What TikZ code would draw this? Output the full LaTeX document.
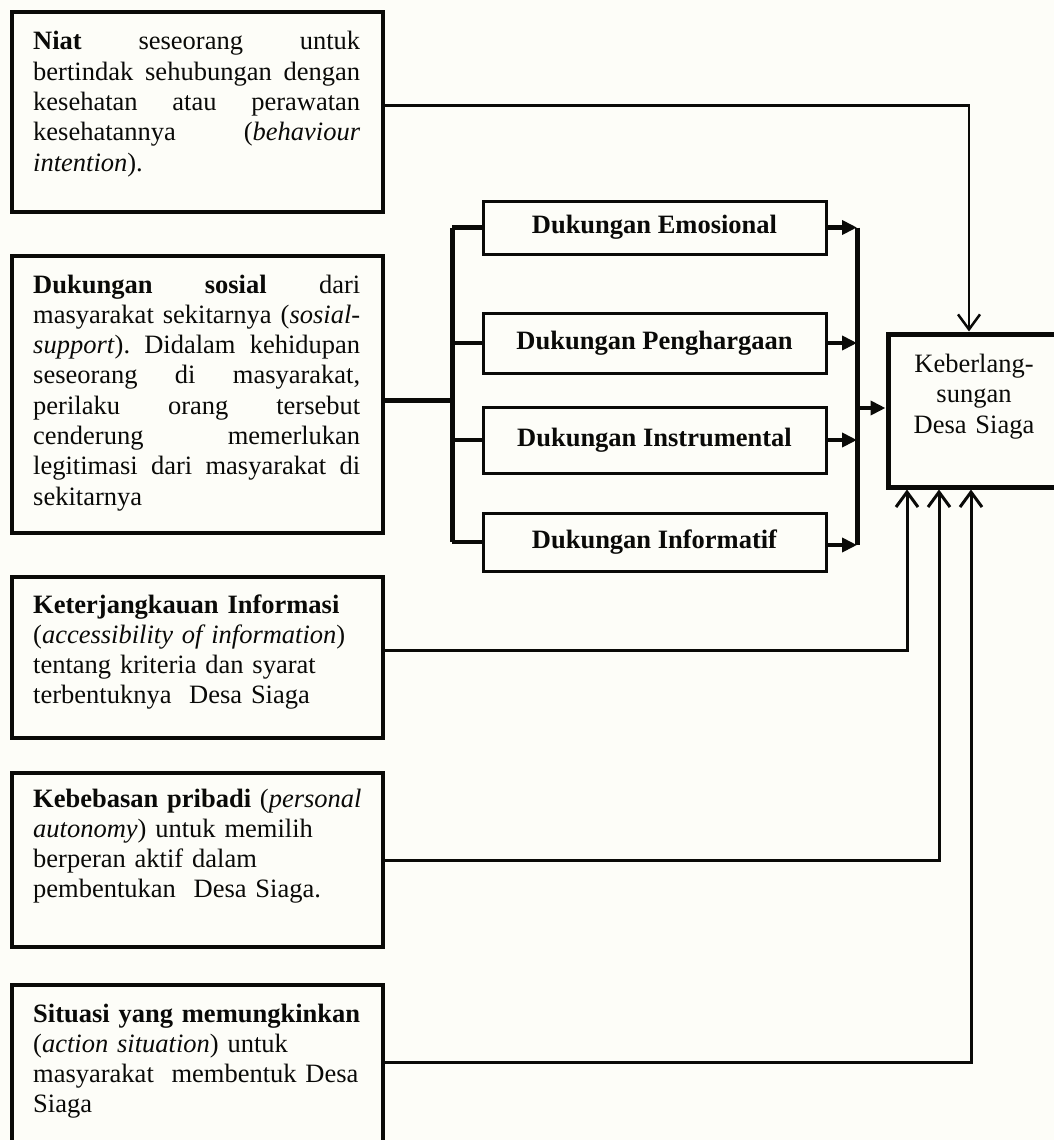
\documentclass[tikz,border=0pt]{standalone}
\usepackage{fontspec}
\setmainfont{Liberation Serif}
\usetikzlibrary{arrows.meta}
\hyphenpenalty=10000
\frenchspacing
\definecolor{bgcol}{RGB}{253,253,248}
\definecolor{ink}{RGB}{10,10,8}
\begin{document}
\begin{tikzpicture}[x=1pt,y=-1pt,
  lbox/.style={draw=ink, line width=3.5pt, minimum width=371pt, inner sep=0pt},
  ltext/.style={anchor=base west, inner sep=0pt, text width=327pt, text=ink,
    font=\fontsize{26.5}{30.3}\selectfont\frenchspacing},
  rtext/.style={ltext, text width=345pt, align=left},
  mbox/.style={draw=ink, line width=3pt, minimum width=343pt, inner sep=0pt, text=ink,
    font=\fontsize{26.5}{30}\selectfont\bfseries},
  tbox/.style={draw=ink, line width=5pt, minimum width=172pt, minimum height=153pt, inner sep=0pt},
  bus/.style={draw=ink, line width=5pt},
  stub/.style={draw=ink, line width=4.5pt},
  thinline/.style={draw=ink, line width=2.5pt},
  botline/.style={draw=ink, line width=3pt},
  barb/.style={-{Straight Barb[length=15pt,width=22pt]}},
  tri/.style={-{Triangle[length=15pt,width=14pt]}}
]
\fill[bgcol] (0,0) rectangle (1054,1140);
\useasboundingbox (0,0) rectangle (1054,1140);

% left boxes
\node[lbox, minimum height=200pt] (niat) at (197.5,112) {};
\node[lbox, minimum height=277pt] (sosial) at (197.5,394.5) {};
\node[lbox, minimum height=161pt] (info) at (197.5,657.5) {};
\node[lbox, minimum height=174pt] (bebas) at (197.5,860) {};
\node[lbox, minimum height=175pt] (situasi) at (197.5,1072.5) {};

\node[ltext, align=justify] (niattext) at (33,50)
 {\textbf{Niat} seseorang untuk\linebreak bertindak sehubungan dengan\linebreak kesehatan atau perawatan\linebreak kesehatannya (\textit{behaviour}\linebreak \textit{intention}).};
\node[ltext, align=justify] (sosialtext) at (33,293)
 {\textbf{Dukungan} \textbf{sosial} dari\linebreak masyarakat sekitarnya (\textit{sosial-}\linebreak \textit{support}). Didalam kehidupan\linebreak seseorang di masyarakat,\linebreak perilaku orang tersebut\linebreak cenderung memerlukan\linebreak legitimasi dari masyarakat di\linebreak sekitarnya};
\node[rtext] (infotext) at (33,613)
 {\textbf{Keterjangkauan Informasi}\\(\textit{accessibility of information})\\tentang kriteria dan syarat\\terbentuknya\ \ Desa Siaga};
\node[rtext] (bebastext) at (33,807)
 {\textbf{Kebebasan pribadi} (\textit{personal}\\\textit{autonomy}) untuk memilih\\berperan aktif dalam\\pembentukan\ \ Desa Siaga.};
\node[rtext] (situasitext) at (33,1022)
 {\textbf{Situasi yang memungkinkan}\\(\textit{action situation}) untuk\\masyarakat\ \ membentuk Desa\\Siaga};

% middle boxes
\node[mbox, minimum height=53pt] (emo) at (654.5,227.5) {Dukungan Emosional};
\node[mbox, minimum height=60pt] (peng) at (654.5,343) {Dukungan Penghargaan};
\node[mbox, minimum height=66pt] (instr) at (654.5,440) {Dukungan Instrumental};
\node[mbox, minimum height=58pt] (infm) at (654.5,542) {Dukungan Informatif};

% target
\node[tbox] (target) at (974,410.5) {};
\node[anchor=base, inner sep=0pt, text width=172pt, align=center, text=ink,
  font=\fontsize{26.5}{30.5}\selectfont] (targettext) at (974,372)
 {Keberlang-\\sungan\\Desa Siaga};

% left bus
\coordinate (lb1) at (452,227.5);
\coordinate (lb4) at (452,542);
\coordinate (sj) at (452,400);
\draw[bus] (lb1) -- (lb4);
\draw[bus] ([yshift=-5.5pt]sosial.east) -- (sj);
\draw[stub] (lb1) -- (emo.west);
\draw[stub] (lb1 |- peng.west) -- (peng.west);
\draw[stub] (lb1 |- instr.west) -- (instr.west);
\draw[stub] (lb4) -- (infm.west);

% right bus
\coordinate (rb1) at (857,227.5);
\coordinate (rb4) at (857,545);
\coordinate (rbm) at (857,408);
\draw[bus] (rb1) -- (rb4);
\draw[stub, tri] (emo.east) -- (rb1);
\draw[stub, tri] (peng.east) -- (peng.east -| rb1);
\draw[stub, tri] (instr.east) -- (instr.east -| rb1);
\draw[stub, tri] ([yshift=-3pt]infm.east) -- (rb4);
\draw[stub, tri] (rbm) -- (rbm -| target.west);

% top connector
\draw[thinline, barb] ([yshift=6.5pt]niat.east) -| ([xshift=-5pt]target.north);

% bottom connectors
\draw[botline, barb] ([yshift=7.5pt]info.east) -| ([xshift=-67pt]target.south);
\draw[botline, barb] (bebas.east) -| ([xshift=-35pt]target.south);
\draw[botline, barb] ([yshift=10.5pt]situasi.east) -| ([xshift=-3pt]target.south);
\end{tikzpicture}
\end{document}
